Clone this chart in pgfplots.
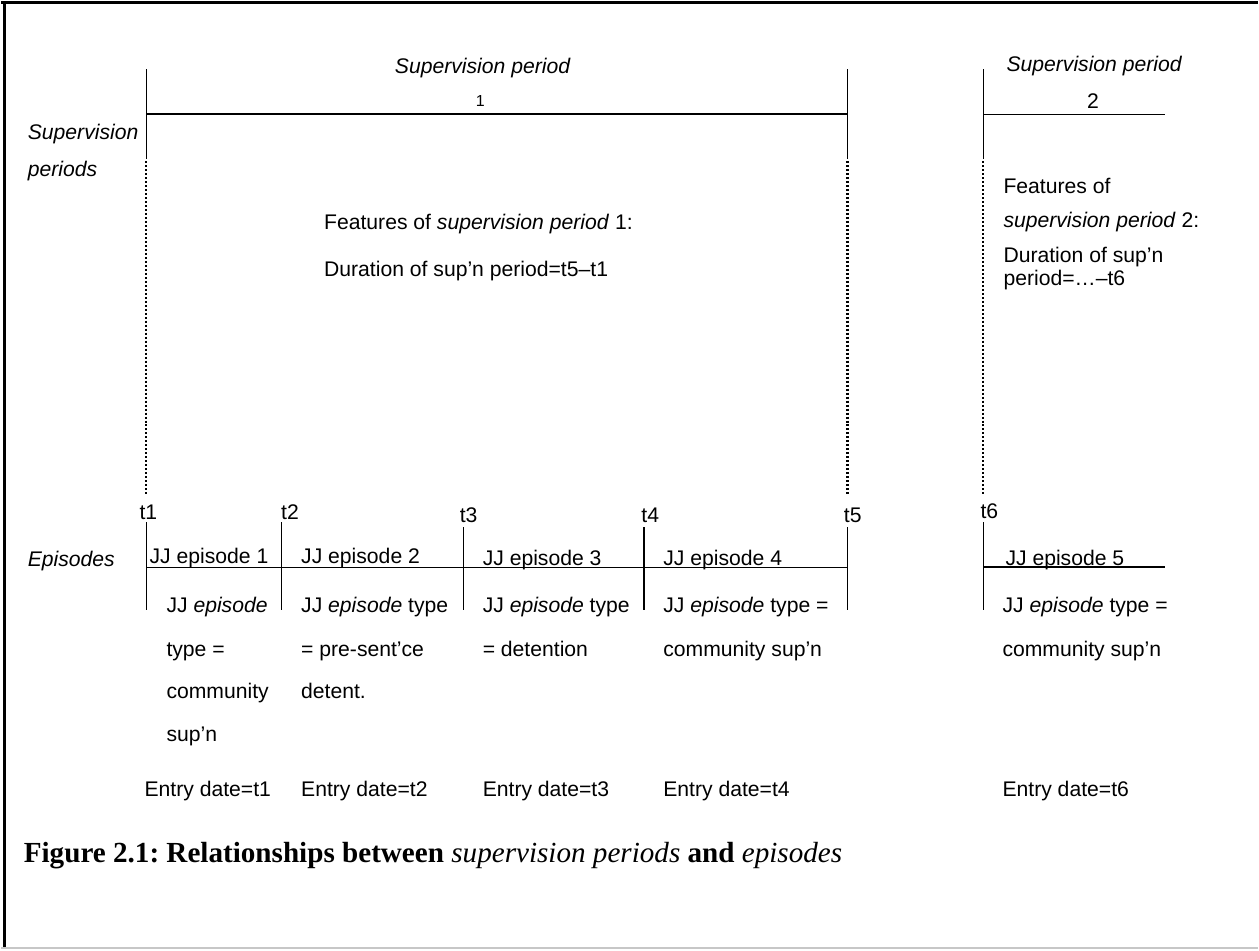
\documentclass[border=0pt]{standalone}
\usepackage{pgfplots}
\pgfplotsset{compat=1.18}
\usepackage{fontspec}
\newfontfamily\arial{Liberation Sans}
\newfontfamily\capserif{Liberation Serif}
\frenchspacing
\begin{document}
\begin{tikzpicture}
\begin{axis}[
  scale only axis, width=629.5pt, height=475pt,
  xmin=0, xmax=1259, ymin=0, ymax=950, y dir=reverse,
  hide axis, clip=false,
  cycle list={{black, solid, mark=none, line width=1.15pt}},
  nodes={inner sep=0pt, font=\arial\fontsize{10.6}{12.7}\selectfont},
]
% frame
\addplot[draw=none] coordinates {(0,0) (1259,950)};
\addplot[black, line width=1.5pt] coordinates {(0,1.5) (1259,1.5)};
\addplot[black, line width=1.5pt] coordinates {(3.5,0) (3.5,950)};
\addplot[color=black!22, line width=0.8pt] coordinates {(0,948.5) (1259,948.5)};
% supervision periods
\addplot coordinates {(145,68) (145,158)};
\addplot coordinates {(848,68) (848,158)};
\addplot coordinates {(984,68) (984,158)};
\addplot coordinates {(145,113) (848,113)};
\addplot coordinates {(984,113) (1166,113)};
\addplot[black, line width=1.1pt, dash pattern=on 1pt off 1pt] coordinates {(145,160) (145,496)};
\addplot[black, line width=1.1pt, dash pattern=on 1pt off 1pt] coordinates {(848,160) (848,496)};
\addplot[black, line width=1.1pt, dash pattern=on 1pt off 1pt] coordinates {(984,160) (984,496)};
% episodes
\addplot coordinates {(145,522) (145,610)};
\addplot coordinates {(281,522) (281,610)};
\addplot coordinates {(463,527) (463,610)};
\addplot coordinates {(644,527) (644,610)};
\addplot coordinates {(848,527) (848,610)};
\addplot coordinates {(984,522) (984,610)};
\addplot coordinates {(145,567) (848,567)};
\addplot coordinates {(984,567) (1166,567)};
% texts top
\node[anchor=base west] at (axis cs:394,72) {\itshape Supervision period};
\node[anchor=base, font=\arial\fontsize{8}{9}\selectfont] at (axis cs:480,105) {1};
\node[anchor=base west] at (axis cs:1007,70) {\itshape Supervision period};
\node[anchor=base] at (axis cs:1094,107) {2};
\node[anchor=base west] at (axis cs:26,138) {\itshape Supervision};
\node[anchor=base west] at (axis cs:26,175) {\itshape periods};
\node[anchor=base west] at (axis cs:323,229) {Features of \textit{supervision period} 1:};
\node[anchor=base west] at (axis cs:323,276) {Duration of sup’n period=t5–t1};
\node[anchor=base west] at (axis cs:1004,192) {Features of};
\node[anchor=base west] at (axis cs:1004,227) {\textit{supervision period} 2:};
\node[anchor=base west] at (axis cs:1004,262) {Duration of sup’n};
\node[anchor=base west] at (axis cs:1004,285) {period=…–t6};
% t labels
\node[anchor=base west] at (axis cs:138,519) {t1};
\node[anchor=base west] at (axis cs:280,519) {t2};
\node[anchor=base west] at (axis cs:459,522) {t3};
\node[anchor=base west] at (axis cs:641,522) {t4};
\node[anchor=base west] at (axis cs:844,522) {t5};
\node[anchor=base west] at (axis cs:981,518) {t6};
% episode labels
\node[anchor=base west] at (axis cs:26,566) {\itshape Episodes};
\node[anchor=base west] at (axis cs:148,563) {JJ episode 1};
\node[anchor=base west] at (axis cs:300,563) {JJ episode 2};
\node[anchor=base west] at (axis cs:482,565) {JJ episode 3};
\node[anchor=base west] at (axis cs:663,565) {JJ episode 4};
\node[anchor=base west] at (axis cs:1006,565) {JJ episode 5};
% episode types
\node[anchor=base west] at (axis cs:165,612) {JJ \textit{episode}};
\node[anchor=base west] at (axis cs:165,657) {type =};
\node[anchor=base west] at (axis cs:165,699) {community};
\node[anchor=base west] at (axis cs:165,742) {sup’n};
\node[anchor=base west] at (axis cs:300,612) {JJ \textit{episode} type};
\node[anchor=base west] at (axis cs:300,657) {= pre-sent’ce};
\node[anchor=base west] at (axis cs:300,699) {detent.};
\node[anchor=base west] at (axis cs:482,612) {JJ \textit{episode} type};
\node[anchor=base west] at (axis cs:482,657) {= detention};
\node[anchor=base west] at (axis cs:663,612) {JJ \textit{episode} type =};
\node[anchor=base west] at (axis cs:663,657) {community sup’n};
\node[anchor=base west] at (axis cs:1003,612) {JJ \textit{episode} type =};
\node[anchor=base west] at (axis cs:1003,657) {community sup’n};
% entry dates
\node[anchor=base west] at (axis cs:143,797) {Entry date=t1};
\node[anchor=base west] at (axis cs:300,797) {Entry date=t2};
\node[anchor=base west] at (axis cs:482,797) {Entry date=t3};
\node[anchor=base west] at (axis cs:663,797) {Entry date=t4};
\node[anchor=base west] at (axis cs:1003,797) {Entry date=t6};
% caption
\node[anchor=base west, font=\capserif\fontsize{14.6}{17}\selectfont\bfseries] at (axis cs:22,863)
  {Figure 2.1: Relationships between {\mdseries\itshape supervision periods} and {\mdseries\itshape episodes}};
\end{axis}
\end{tikzpicture}
\end{document}
